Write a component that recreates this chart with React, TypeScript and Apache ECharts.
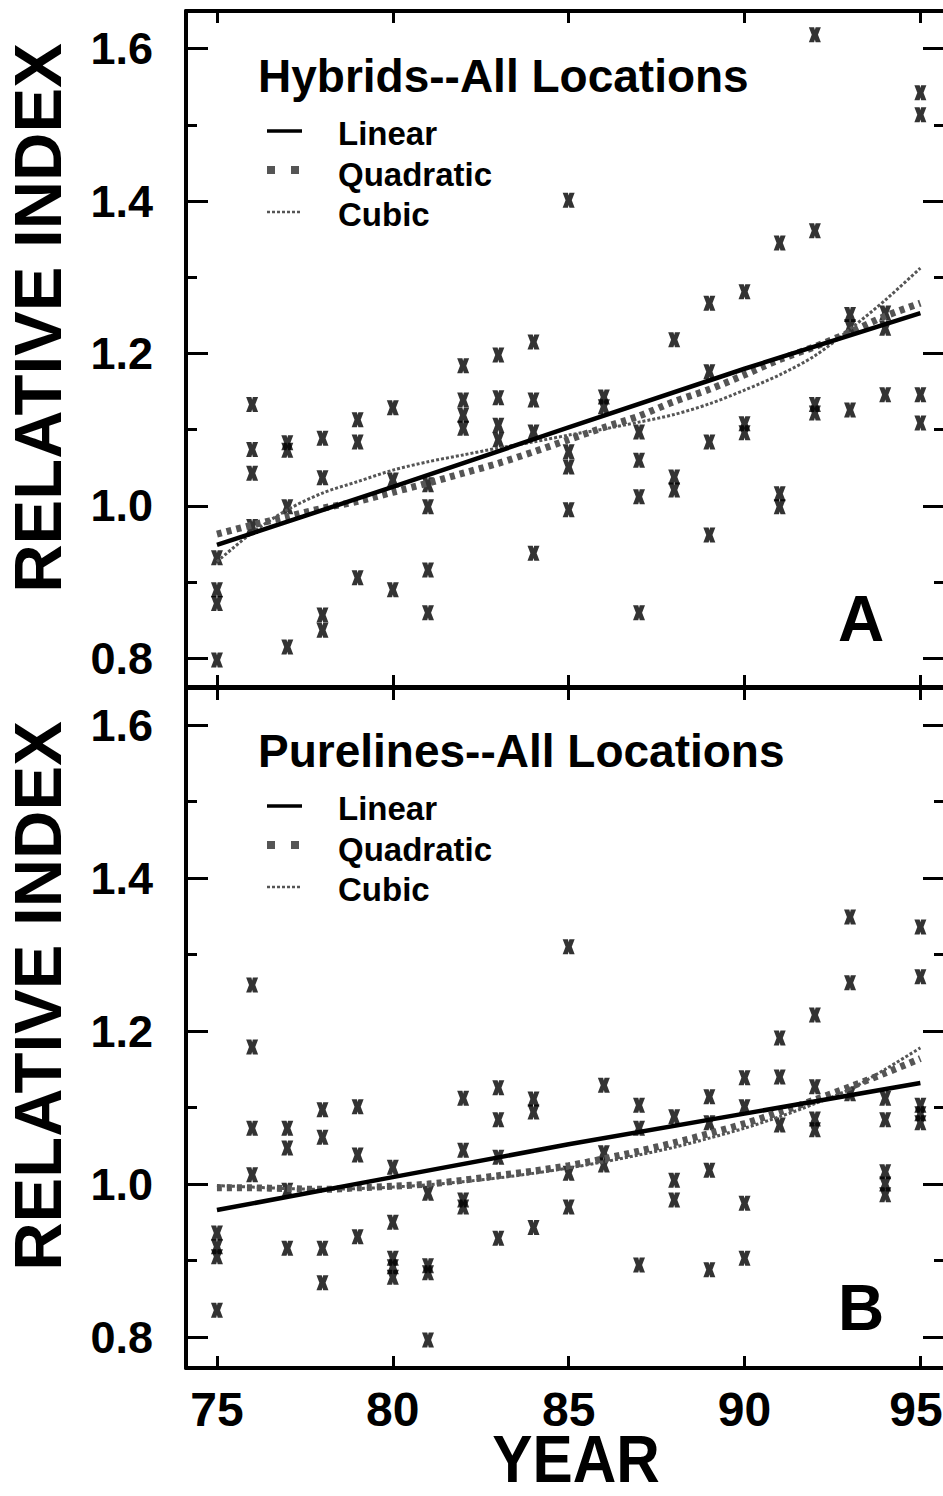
import React, { useEffect, useRef } from "react";
import * as echarts from "echarts";

// ---------- data ----------
const yearTicks = [75, 80, 85, 90, 95];
const majorY = [0.8, 1.0, 1.2, 1.4, 1.6];
const minorY = [0.9, 1.1, 1.3, 1.5];

const fitYears = [75, 76, 77, 78, 79, 80, 81, 82, 83, 84, 85, 86, 87, 88, 89, 90, 91, 92, 93, 94, 95];
const linYears = [75, 80, 85, 90, 95];

// Panel A: Hybrids
const hybridLinear = [0.949, 1.025, 1.103, 1.180, 1.253];
const hybridQuadratic = [0.963, 0.975, 0.986, 0.997, 1.006, 1.018, 1.030, 1.043, 1.056, 1.071, 1.087, 1.103, 1.118, 1.137, 1.153, 1.172, 1.192, 1.209, 1.228, 1.249, 1.266];
const hybridCubic = [0.927, 0.965, 0.995, 1.017, 1.032, 1.047, 1.058, 1.067, 1.076, 1.084, 1.093, 1.101, 1.110, 1.120, 1.134, 1.152, 1.172, 1.197, 1.232, 1.270, 1.312];
const hybridPoints: [number, number][] = [
  [75, 0.932], [75, 0.890], [75, 0.872], [75, 0.798],
  [76, 1.133], [76, 1.074], [76, 1.043], [76, 0.973],
  [77, 1.083], [77, 1.073], [77, 0.999], [77, 0.815],
  [78, 1.089], [78, 1.037], [78, 0.857], [78, 0.837],
  [79, 1.113], [79, 1.084], [79, 0.906],
  [80, 1.129], [80, 1.034], [80, 0.890],
  [81, 1.028], [81, 0.999], [81, 0.916], [81, 0.860],
  [82, 1.184], [82, 1.139], [82, 1.119], [82, 1.102],
  [83, 1.198], [83, 1.142], [83, 1.106], [83, 1.087],
  [84, 1.215], [84, 1.139], [84, 1.097], [84, 0.938],
  [85, 1.401], [85, 1.071], [85, 1.051], [85, 0.995],
  [86, 1.143], [86, 1.130],
  [87, 1.097], [87, 1.060], [87, 1.012], [87, 0.860],
  [88, 1.218], [88, 1.038], [88, 1.021],
  [89, 1.266], [89, 1.176], [89, 1.084], [89, 0.962],
  [90, 1.281], [90, 1.108], [90, 1.096],
  [91, 1.345], [91, 1.016], [91, 0.999],
  [92, 1.618], [92, 1.361], [92, 1.133], [92, 1.122],
  [93, 1.251], [93, 1.235], [93, 1.126],
  [94, 1.253], [94, 1.233], [94, 1.146],
  [95, 1.542], [95, 1.513], [95, 1.146], [95, 1.109],
];

// Panel B: Purelines
const pureLinear = [0.966, 1.009, 1.052, 1.092, 1.132];
const pureQuadratic = [0.995, 0.995, 0.994, 0.993, 0.995, 0.997, 1.000, 1.005, 1.011, 1.017, 1.024, 1.033, 1.043, 1.054, 1.066, 1.079, 1.094, 1.110, 1.127, 1.145, 1.164];
const pureCubic = [0.998, 0.996, 0.994, 0.993, 0.994, 0.996, 0.999, 1.003, 1.008, 1.014, 1.021, 1.029, 1.038, 1.048, 1.060, 1.073, 1.088, 1.105, 1.124, 1.150, 1.178];
const purePoints: [number, number][] = [
  [75, 0.936], [75, 0.918], [75, 0.905], [75, 0.835],
  [76, 1.260], [76, 1.179], [76, 1.073], [76, 1.012],
  [77, 1.073], [77, 1.047], [77, 0.992], [77, 0.916],
  [78, 1.097], [78, 1.061], [78, 0.916], [78, 0.871],
  [79, 1.101], [79, 1.038], [79, 0.931],
  [80, 1.022], [80, 0.950], [80, 0.903], [80, 0.892], [80, 0.878],
  [81, 0.988], [81, 0.893], [81, 0.884], [81, 0.796],
  [82, 1.112], [82, 1.044], [82, 0.979], [82, 0.970],
  [83, 1.126], [83, 1.084], [83, 1.035], [83, 0.929],
  [84, 1.111], [84, 1.094], [84, 0.943],
  [85, 1.310], [85, 1.014], [85, 0.970],
  [86, 1.129], [86, 1.041], [86, 1.025],
  [87, 1.103], [87, 1.073], [87, 0.894],
  [88, 1.088], [88, 1.005], [88, 0.979],
  [89, 1.114], [89, 1.080], [89, 1.018], [89, 0.888],
  [90, 1.139], [90, 1.101], [90, 0.975], [90, 0.903],
  [91, 1.191], [91, 1.140], [91, 1.077],
  [92, 1.221], [92, 1.127], [92, 1.085], [92, 1.071],
  [93, 1.349], [93, 1.263], [93, 1.118],
  [94, 1.112], [94, 1.084], [94, 1.016], [94, 1.000], [94, 0.986],
  [95, 1.336], [95, 1.271], [95, 1.103], [95, 1.092], [95, 1.080],
];

const panelTitles = ["Hybrids--All Locations", "Purelines--All Locations"];
const panelLetters = ["A", "B"];
const legendNames = ["Linear", "Quadratic", "Cubic"];

// ---------- styling ----------
const FONT = "'Liberation Sans', Arial, Helvetica, sans-serif";
const X_MIN = 74.12;
const X_MAX = 95.7;
const GRID_LEFT = 186;
const GRID_WIDTH = 759;
const grids = [
  { top: 11, height: 676, yMin: 0.7626, yMax: 1.6492 },
  { top: 688, height: 680, yMin: 0.7595, yMax: 1.6484 },
];
const XMARK = "path://M0 0H4.4L5 2.6L5.6 0H10L7.6 7L10 14H5.6L5 11.4L4.4 14H0L2.4 7Z";

function zip(xs: number[], ys: number[]) {
  return xs.map((x, i) => [x, ys[i]]);
}

export default function App() {
  const ref = useRef<HTMLDivElement>(null);

  useEffect(() => {
    if (!ref.current) return;
    const chart = echarts.init(ref.current, null, { renderer: "svg" });

    const xAxis: any[] = [];
    const yAxis: any[] = [];
    const series: any[] = [];
    const graphic: any[] = [];
    const lastYear = yearTicks[yearTicks.length - 1];

    grids.forEach((g, gi) => {
      const axLine = { show: true, onZero: false, lineStyle: { color: "#000", width: 4 } };
      const xTick = { show: true, inside: true, length: 12, customValues: yearTicks, lineStyle: { color: "#000", width: 3 } };
      xAxis.push({
        gridIndex: gi, type: "value", position: "bottom", min: X_MIN, max: X_MAX,
        axisLine: axLine, axisTick: xTick, splitLine: { show: false },
        axisLabel: {
          show: gi === 1, customValues: yearTicks, margin: 17, color: "#000",
          fontSize: 48, fontWeight: "bold", fontFamily: FONT,
          formatter: (v: number) => (v === lastYear ? `{e|${v}}` : `${v}`),
          rich: {
            e: { fontSize: 48, fontWeight: "bold", fontFamily: FONT, color: "#000", padding: [0, 9, 0, 0] },
          },
        },
      });
      xAxis.push({
        gridIndex: gi, type: "value", position: "top", min: X_MIN, max: X_MAX,
        axisLine: axLine, axisTick: xTick, splitLine: { show: false }, axisLabel: { show: false },
      });
      const mk = (pos: string, major: boolean, line: boolean, label: boolean) => ({
        gridIndex: gi, type: "value", position: pos, min: g.yMin, max: g.yMax,
        axisLine: line ? axLine : { show: false },
        splitLine: { show: false },
        axisTick: {
          show: true, inside: true, length: major ? 22 : 11,
          customValues: major ? majorY : minorY, lineStyle: { color: "#000", width: 3 },
        },
        axisLabel: label
          ? {
              show: true, customValues: majorY, margin: 33, color: "#000",
              fontSize: 45, fontWeight: "bold", fontFamily: FONT,
              formatter: (v: number) => v.toFixed(1),
            }
          : { show: false },
      });
      yAxis.push(mk("left", true, true, true));
      yAxis.push(mk("left", false, false, false));
      yAxis.push(mk("right", true, true, false));
      yAxis.push(mk("right", false, false, false));

      const pts = gi === 0 ? hybridPoints : purePoints;
      const lin = gi === 0 ? hybridLinear : pureLinear;
      const quad = gi === 0 ? hybridQuadratic : pureQuadratic;
      const cub = gi === 0 ? hybridCubic : pureCubic;
      const xi = gi * 2;
      const yi = gi * 4;

      series.push({
        type: "scatter", xAxisIndex: xi, yAxisIndex: yi, data: pts,
        symbol: XMARK, symbolSize: [12, 15], itemStyle: { color: "#000" }, z: 2,
      });
      series.push({
        type: "line", xAxisIndex: xi, yAxisIndex: yi, data: zip(fitYears, cub), smooth: 0.3,
        symbol: "none", lineStyle: { color: "#555", width: 3, type: [3, 2] }, z: 3,
      });
      series.push({
        type: "line", xAxisIndex: xi, yAxisIndex: yi, data: zip(fitYears, quad), smooth: 0.3,
        symbol: "none", lineStyle: { color: "#555", width: 7, type: [5, 5] }, z: 4,
      });
      series.push({
        type: "line", xAxisIndex: xi, yAxisIndex: yi, data: zip(linYears, lin),
        symbol: "none", lineStyle: { color: "#000", width: 4.5 }, z: 5,
      });

      // Titles / legends / letters
      const off = gi === 0 ? 0 : 675;
      graphic.push({
        type: "text", x: 258, y: 76 + off,
        style: { text: panelTitles[gi], fontSize: 46, fontWeight: "bold", fontFamily: FONT, fill: "#000", align: "left", verticalAlign: "middle" },
      });
      const legY = [133, 174, 214];
      legendNames.forEach((name, li) => {
        graphic.push({
          type: "text", x: 338, y: legY[li] + off,
          style: { text: name, fontSize: 33, fontWeight: "bold", fontFamily: FONT, fill: "#000", align: "left", verticalAlign: "middle" },
        });
      });
      graphic.push({ type: "line", shape: { x1: 267, y1: 131 + off, x2: 302, y2: 131 + off }, style: { stroke: "#000", lineWidth: 3.5 } });
      graphic.push({ type: "rect", shape: { x: 267, y: 166 + off, width: 8, height: 8 }, style: { fill: "#555" } });
      graphic.push({ type: "rect", shape: { x: 291, y: 166 + off, width: 8, height: 8 }, style: { fill: "#555" } });
      graphic.push({ type: "line", shape: { x1: 267, y1: 212 + off, x2: 301, y2: 212 + off }, style: { stroke: "#555", lineWidth: 2.5, lineDash: [3, 2] } });
      graphic.push({
        type: "text", x: 861, y: (gi === 0 ? 619 : 1308),
        style: { text: panelLetters[gi], fontSize: 64, fontWeight: "bold", fontFamily: FONT, fill: "#000", align: "center", verticalAlign: "middle" },
      });
      graphic.push({
        type: "text", x: 37, y: gi === 0 ? 318 : 996, rotation: Math.PI / 2,
        style: { text: "RELATIVE INDEX", fontSize: 67, fontWeight: "bold", fontFamily: FONT, fill: "#000", align: "center", verticalAlign: "middle" },
      });
    });

    graphic.push({
      type: "text", x: 576, y: 1459, scaleX: 0.9,
      style: { text: "YEAR", fontSize: 67, fontWeight: "bold", fontFamily: FONT, fill: "#000", align: "center", verticalAlign: "middle" },
    });

    chart.setOption({
      animation: false,
      backgroundColor: "#fff",
      grid: grids.map((g) => ({
        left: GRID_LEFT, width: GRID_WIDTH, top: g.top, height: g.height,
        containLabel: false, outerBoundsMode: "none",
      })),
      xAxis, yAxis, series, graphic,
    });

    return () => chart.dispose();
  }, []);

  return <div ref={ref} style={{ position: "fixed", left: 0, top: 0, width: 943, height: 1496 }} />;
}
